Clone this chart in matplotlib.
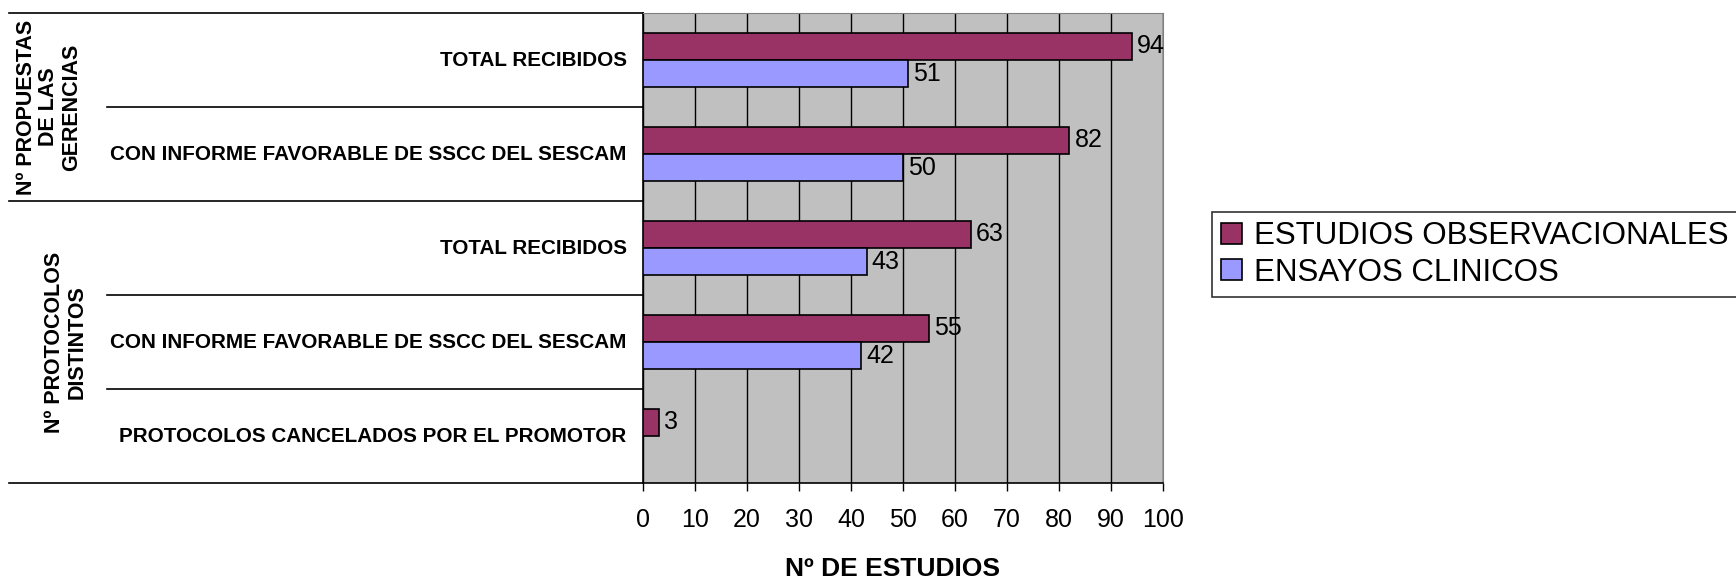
import numpy as np
import matplotlib.pyplot as plt
import matplotlib.transforms as mtransforms

plt.rcParams['font.family'] = ['Liberation Sans', 'DejaVu Sans']

categorias = ["TOTAL RECIBIDOS",
              "CON INFORME FAVORABLE DE SSCC DEL SESCAM",
              "TOTAL RECIBIDOS",
              "CON INFORME FAVORABLE DE SSCC DEL SESCAM",
              "PROTOCOLOS CANCELADOS POR EL PROMOTOR"]
grupos = ["Nº PROPUESTAS\nDE LAS\nGERENCIAS", "Nº PROTOCOLOS\nDISTINTOS"]
grupo_tam = [2, 3]
observacionales = [94, 82, 63, 55, 3]
ensayos = [51, 50, 43, 42, None]
series = ["ESTUDIOS OBSERVACIONALES", "ENSAYOS CLINICOS"]
ticks_x = [0, 10, 20, 30, 40, 50, 60, 70, 80, 90, 100]

fig = plt.figure(figsize=(17.36, 5.83), dpi=100)
ax = fig.add_axes([0.3704, 0.1715, 0.2995, 0.8062])
ax.set_facecolor("#C0C0C0")

y = np.arange(len(categorias))
h = 0.29
ens = [v if v is not None else 0 for v in ensayos]
b1 = ax.barh(y - h / 2, observacionales, height=h, color="#993366",
             edgecolor="black", linewidth=1.2, label=series[0], zorder=3)
b2 = ax.barh(y + h / 2, ens, height=h, color="#9999FF",
             edgecolor="black", linewidth=1.2, label=series[1], zorder=3)

for i, v in enumerate(observacionales):
    ax.text(v + 1, y[i] - h / 2, str(v), va="center", ha="left", fontsize=18)
for i, v in enumerate(ensayos):
    if v is not None:
        ax.text(v + 1, y[i] + h / 2, str(v), va="center", ha="left", fontsize=18)

ax.set_xlim(0, 100)
ax.set_ylim(len(categorias) - 0.5, -0.5)
ax.set_xticks(ticks_x)
ax.set_xticklabels([str(t) for t in ticks_x], fontsize=18)
ax.tick_params(axis="x", length=6, width=1, pad=12)
ax.set_yticks([])
ax.grid(axis="x", color="black", linewidth=1, zorder=1)
for s in ["top", "right"]:
    ax.spines[s].set_color("#808080")
ax.spines["left"].set_linewidth(1.2)
ax.spines["bottom"].set_linewidth(1.2)
ax.set_xlabel("Nº DE ESTUDIOS", fontsize=19, fontweight="bold", labelpad=18)
ax.xaxis.label.set_x(0.48)

# etiquetas de categorias y tabla de la izquierda
trans = mtransforms.blended_transform_factory(fig.transFigure, ax.transData)
for i, c in enumerate(categorias):
    ax.text(0.361, y[i], c, transform=trans, ha="right", va="center",
            fontsize=14.9, fontweight="bold")

x_ext = 9 / 1736
x_int = 107 / 1736
x_ax = 643 / 1736
bordes = np.cumsum([0] + grupo_tam) - 0.5
for i in range(len(categorias) + 1):
    yy = i - 0.5
    x0 = x_ext if yy in bordes else x_int
    ax.plot([x0, x_ax], [yy, yy], transform=trans, color="black",
            linewidth=1.2, clip_on=False)

gx = [49 / 1736, 66 / 1736]
for k, g in enumerate(grupos):
    yc = (bordes[k] + bordes[k + 1]) / 2
    ax.text(gx[k], yc, g, transform=trans, rotation=90, ha="center",
            va="center", multialignment="center", fontsize=15.5,
            fontweight="bold", linespacing=1.1)

leg = fig.legend(handles=[b1, b2], labels=series, loc="upper left",
                 bbox_to_anchor=(1212 / 1736, 1 - 212 / 583), fontsize=22.5,
                 frameon=True, fancybox=False, edgecolor="black",
                 handlelength=0.65, handleheight=0.65, handletextpad=0.4,
                 borderpad=0.3, labelspacing=0.2, borderaxespad=0)
leg.get_frame().set_linewidth(1.2)

plt.savefig("out.png", dpi=100)
